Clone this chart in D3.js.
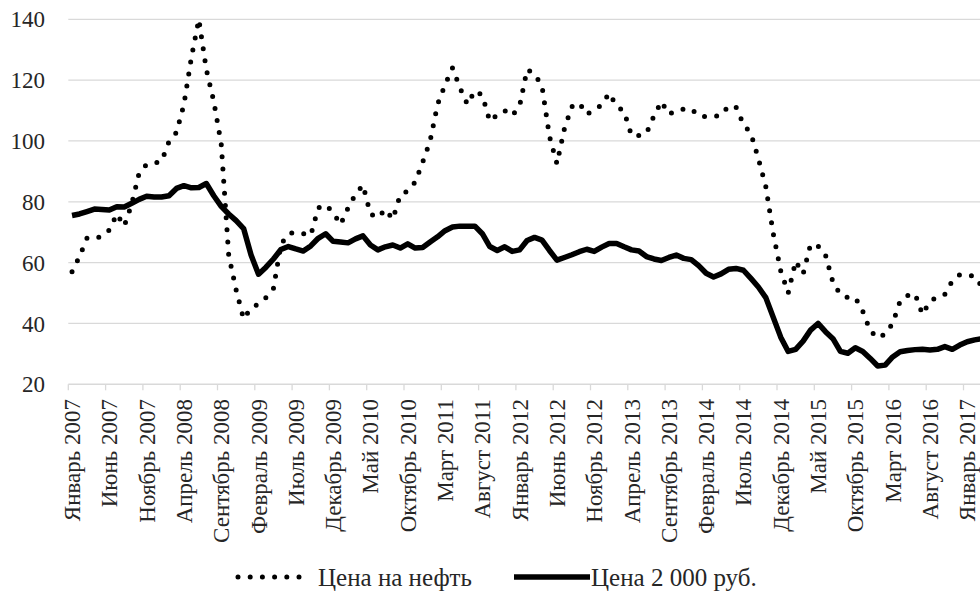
<!DOCTYPE html>
<html>
<head>
<meta charset="utf-8">
<script src="https://cdn.jsdelivr.net/npm/d3@7"></script>
<style>
  body { margin: 0; background: #fff; }
  svg { display: block; }
</style>
</head>
<body>
<div id="chart"></div>
<script>
const monthNames = ["Январь", "Февраль", "Март", "Апрель", "Май", "Июнь",
    "Июль", "Август", "Сентябрь", "Октябрь", "Ноябрь", "Декабрь"];
const years = [2007, 2008, 2009, 2010, 2011, 2012, 2013, 2014, 2015, 2016, 2017];
const lastMonths = 3; // январь-март 2017

// Цена на нефть
const oil = [
    57, 62, 68, 67.8, 68.7, 70.7, 76, 72, 79.3, 89.5, 92.3, 92.7,
    93.3, 99.8, 102.8, 112, 127.5, 140, 123.5, 113, 99, 62.5, 51, 41.5,
    45, 46.5, 48.5, 51.5, 66, 69.5, 70, 69.5, 69, 78, 79, 76.5,
    72.5, 78, 82.5, 85.5, 76, 74.8, 77.5, 74.3, 82.3, 83.5, 86.5, 93,
    100, 112, 118.5, 124, 117.5, 112, 116.5, 115, 106.5, 108.6, 110, 108.3,
    111.5, 123.5, 122, 118, 101.5, 92.5, 104, 111.3, 112.5, 108.7, 110.2, 111.8,
    115.7, 111.5, 109.7, 101.8, 101.8, 102.5, 108.2, 113, 108.8, 110, 110.5, 110.6,
    108.3, 108, 108, 108.5, 111.5, 111.2, 105.5, 102.5, 94.2, 85, 69.5, 57.3,
    50, 60.5, 56.3, 66, 65.5, 62.5, 53.5, 49.5, 48.5, 48.5, 44, 37.6,
    35.2, 36.5, 40, 47.3, 49.2, 49.8, 43, 47.2, 48.8, 49.6, 54, 56,
    56, 55.5, 52
];

// Цена 2 000 руб.
const rub = [
    75.5, 76, 76.8, 77.6, 77.5, 77.3, 78.4, 78.3, 79.5, 80.8, 81.8, 81.6,
    81.6, 82, 84.4, 85.3, 84.6, 84.7, 86, 82, 78.5, 76, 73.8, 71.2,
    62.5, 56.2, 58.5, 61.2, 64.3, 65.3, 64.5, 63.8, 65.5, 68, 69.5, 67,
    66.8, 66.5, 67.8, 68.8, 65.8, 64.2, 65.2, 65.8, 64.8, 66.2, 64.8, 65,
    66.8, 68.5, 70.5, 71.7, 72, 72, 72, 69.5, 65.3, 64, 65.2, 63.7,
    64.2, 67.3, 68.3, 67.4, 64, 60.8, 61.7, 62.6, 63.6, 64.4, 63.7, 65.1,
    66.3, 66.3, 65.2, 64.2, 63.8, 62, 61.2, 60.7, 61.7, 62.5, 61.4, 61,
    59, 56.5, 55.3, 56.3, 57.8, 58.1, 57.5, 54.8, 52, 48.5, 42, 35.5,
    30.8, 31.5, 34.2, 37.8, 40, 37.3, 35, 30.8, 30.2, 32, 30.8, 28.5,
    26, 26.3, 29, 30.7, 31.1, 31.4, 31.5, 31.3, 31.5, 32.4, 31.5, 32.9,
    34, 34.6, 35
];

const yTicks = [20, 40, 60, 80, 100, 120, 140];
const seriesNames = ["Цена на нефть", "Цена 2 000 руб."];

let categories = [];
years.forEach(function (y, yi) {
    let n = (yi == years.length - 1) ? lastMonths : 12;
    for (let m = 0; m < n; m++) categories.push(monthNames[m] + " " + y);
});

const width = 980, height = 612;
const plotLeft = 68.3, step = 7.46;
const plotTop = 19.3, plotBottom = 384.3;
const font = "'DejaVu Serif', 'Liberation Serif', serif";
const textColor = "#262626";

const svg = d3.select("#chart")
    .append("svg")
    .attr("width", width)
    .attr("height", height)
    .attr("font-family", "Liberation Serif, " + font)
    .attr("fill", textColor);

const x = d3.scaleBand()
    .domain(categories)
    .range([plotLeft, plotLeft + categories.length * step])
    .paddingInner(0)
    .paddingOuter(0);

const y = d3.scaleLinear()
    .domain([20, 140])
    .range([plotBottom, plotTop]);

const cx = function (c) { return x(c) + x.bandwidth() / 2; };

// Gridlines
svg.append("g")
    .selectAll("line")
    .data(yTicks.slice(1))
    .enter()
    .append("line")
    .attr("x1", plotLeft)
    .attr("x2", x.range()[1])
    .attr("y1", d => y(d))
    .attr("y2", d => y(d))
    .attr("stroke", "#d9d9d9")
    .attr("stroke-width", 1.3);

// Y labels
svg.append("g")
    .selectAll("text")
    .data(yTicks)
    .enter()
    .append("text")
    .attr("x", 45)
    .attr("y", d => y(d))
    .attr("dy", "0.35em")
    .attr("text-anchor", "end")
    .attr("font-size", 23)
    .text(d => d);

// X axis line + ticks
svg.append("line")
    .attr("x1", plotLeft)
    .attr("x2", x.range()[1])
    .attr("y1", plotBottom)
    .attr("y2", plotBottom)
    .attr("stroke", "#d9d9d9")
    .attr("stroke-width", 1.5);

const tickCats = categories.filter((c, i) => i % 5 == 0);

svg.append("g")
    .selectAll("line")
    .data(tickCats)
    .enter()
    .append("line")
    .attr("x1", d => x(d))
    .attr("x2", d => x(d))
    .attr("y1", plotBottom)
    .attr("y2", plotBottom + 6)
    .attr("stroke", "#d9d9d9")
    .attr("stroke-width", 1.3);

svg.append("g")
    .selectAll("text")
    .data(tickCats)
    .enter()
    .append("text")
    .attr("transform", d => "translate(" + cx(d) + "," + 399 + ") rotate(-90)")
    .attr("dy", "0.35em")
    .attr("text-anchor", "end")
    .attr("font-size", 23)
    .text(d => d);

// Lines
const line = function (vals) {
    return d3.line()
        .x((d, i) => cx(categories[i]))
        .y(d => y(d))(vals);
};

svg.append("path")
    .attr("d", line(rub))
    .attr("fill", "none")
    .attr("stroke", "#000")
    .attr("stroke-width", 5.5)
    .attr("stroke-linejoin", "round");

svg.append("path")
    .attr("d", line(oil))
    .attr("fill", "none")
    .attr("stroke", "#000")
    .attr("stroke-width", 5)
    .attr("stroke-linecap", "round")
    .attr("stroke-dasharray", "0,12.2");

// Legend
const ly = 577;
const legend = svg.append("g");
legend.append("line")
    .attr("x1", 238).attr("x2", 303)
    .attr("y1", ly).attr("y2", ly)
    .attr("stroke", "#000")
    .attr("stroke-width", 5)
    .attr("stroke-linecap", "round")
    .attr("stroke-dasharray", "0,12.2");
legend.append("text")
    .attr("x", 318).attr("y", ly)
    .attr("dy", "0.35em")
    .attr("font-size", 25)
    .text(seriesNames[0]);
legend.append("line")
    .attr("x1", 514).attr("x2", 590)
    .attr("y1", ly).attr("y2", ly)
    .attr("stroke", "#000")
    .attr("stroke-width", 5.5);
legend.append("text")
    .attr("x", 591).attr("y", ly)
    .attr("dy", "0.35em")
    .attr("font-size", 25)
    .text(seriesNames[1]);
</script>
</body>
</html>
